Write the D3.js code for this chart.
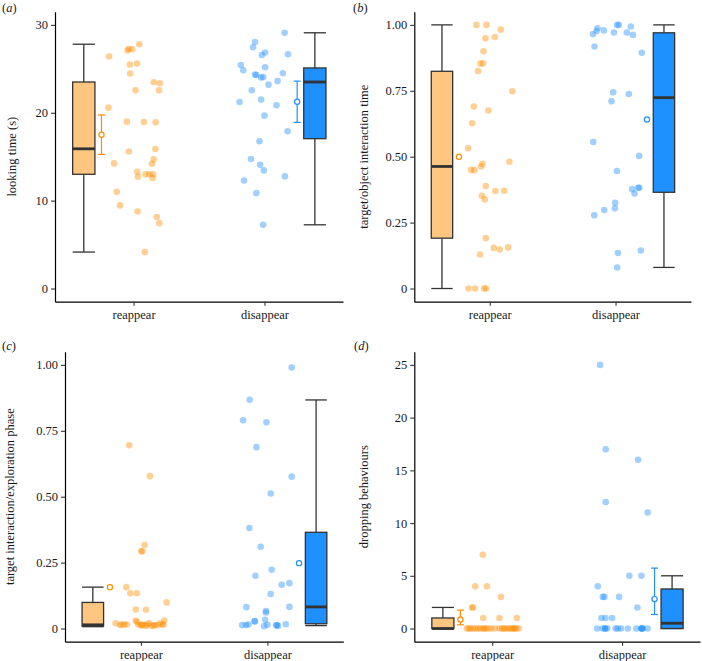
<!DOCTYPE html>
<html><head><meta charset="utf-8">
<script src="https://cdn.jsdelivr.net/npm/d3@7"></script>
<style>
body{margin:0;background:#fff}
svg{display:block}
</style>
</head><body>
<svg id="chart" width="702" height="661"></svg>
<script>
const categories = ["reappear", "disappear"];

// ---- panel (a): looking time (s) ----  points as [jitter, value]
const aReappearPoints = [[-0.187,26.4],[-0.046,27.08],[-0.036,27.27],[-0.01,27.23],[0.044,27.8],[-0.028,25.5],[0.026,25.6],[-0.026,24.46],[0.015,22.56],[0.154,23.47],[0.2,23.36],[0.195,22.56],[-0.192,20.58],[-0.051,18.99],[0.079,18.95],[0.169,18.91],[-0.036,15.6],[0.167,15.87],[0.154,14.7],[-0.149,14.24],[0.141,14.2],[0.028,13.29],[0.033,12.72],[0.092,13.0],[0.12,12.99],[0.149,13.0],[0.146,12.57],[-0.128,11.0],[-0.103,9.46],[0.031,8.77],[0.177,8.13],[0.197,7.44],[0.087,4.14]];
const aDisappearPoints = [[0.154,29.1],[-0.072,28.06],[-0.087,27.46],[0.005,26.85],[-0.02,26.58],[0.18,26.66],[-0.18,25.44],[-0.162,24.83],[0.005,25.18],[-0.072,24.34],[-0.062,24.3],[-0.01,24.06],[-0.026,24.0],[0.141,24.5],[0.1,23.6],[0.031,23.2],[-0.097,22.56],[-0.026,21.5],[-0.19,21.23],[0.092,20.85],[0,19.67],[0.177,17.9],[-0.038,16.75],[-0.103,14.74],[-0.033,14.09],[-0.005,13.44],[0.156,12.76],[-0.156,12.3],[-0.062,10.86],[-0.01,7.25]];
const aBoxes = [[4.15,13.0,15.9,23.5,27.8],[7.25,17.05,23.5,25.1,29.1]]; // low, q1, median, q3, high
const aMeans = [17.5, 21.26];
const aErrLow = [15.26, 18.9];
const aErrHigh = [19.75, 23.6];
const aTicks = [0, 10, 20, 30];

// ---- panel (b): target/object interaction time ----
const bReappearPoints = [[-0.106,1.0],[-0.026,1.0],[0.087,0.982],[0.04,0.954],[-0.034,0.949],[-0.05,0.9],[-0.074,0.853],[-0.053,0.854],[-0.093,0.825],[0.18,0.748],[-0.011,0.675],[-0.127,0.69],[-0.14,0.627],[-0.172,0.532],[-0.148,0.45],[-0.122,0.449],[-0.058,0.473],[-0.069,0.463],[0.156,0.481],[-0.032,0.389],[-0.063,0.352],[-0.04,0.338],[0.045,0.37],[0.114,0.371],[-0.032,0.191],[-0.077,0.129],[0.032,0.154],[0.079,0.148],[0.146,0.156],[-0.169,0],[-0.116,0],[-0.045,0],[-0.029,0]];
const bDisappearPoints = [[0.013,1.0],[0.026,1.0],[0.122,0.994],[-0.143,0.987],[-0.18,0.965],[-0.151,0.977],[-0.093,0.979],[-0.013,0.971],[0.09,0.971],[0.138,0.962],[-0.167,0.918],[0.209,0.894],[-0.019,0.744],[-0.032,0.71],[0.106,0.738],[-0.177,0.556],[0.188,0.503],[0.011,0.446],[0.132,0.377],[0.18,0.382],[0.19,0.382],[0.151,0.36],[-0.003,0.325],[-0.005,0.304],[-0.09,0.298],[-0.169,0.278],[0.019,0.135],[0.201,0.144],[0.013,0.08]];
const bBoxes = [[0,0.191,0.463,0.824,1.0],[0.08,0.365,0.724,0.97,1.0]];
const bMeans = [0.5, 0.641];
const bTicks = [0, 0.25, 0.5, 0.75, 1.0];

// ---- panel (c): target interaction/exploration phase ----
const cReappearPoints = [[-0.092,0.695],[0.071,0.578],[0.029,0.317],[0.003,0.293],[0.011,0.293],[-0.116,0.157],[-0.084,0.134],[-0.032,0.134],[-0.04,0.072],[0.04,0.071],[0.203,0.099],[-0.2,0.02],[-0.165,0.013],[-0.131,0.015],[-0.112,0.015],[-0.041,0.03],[-0.02,0.015],[0,0.013],[0.019,0.015],[0.038,0.01],[0.064,0.02],[0.085,0.01],[0.111,0.013],[0.133,0.013],[0.151,0.02],[0.177,0.015],[0.185,0.03],[-0.15,0.015],[0.005,0.012],[0.05,0.015],[0.1,0.012],[-0.03,0.025],[0.17,0.015]];
const cDisappearPoints = [[0.192,0.99],[-0.14,0.868],[-0.192,0.79],[-0.008,0.782],[-0.087,0.688],[0.192,0.576],[0.026,0.512],[-0.142,0.381],[-0.053,0.31],[0.034,0.223],[-0.095,0.2],[0.113,0.166],[0.174,0.172],[0.026,0.131],[-0.166,0.081],[0.174,0.082],[-0.011,0.066],[-0.011,0.061],[-0.1,0.027],[-0.018,0.033],[-0.2,0.013],[-0.169,0.013],[-0.15,0.015],[-0.026,0.009],[0,0.014],[0.074,0.013],[0.084,0.01],[0.145,0.016],[0.07,0.012],[-0.1,0.028]];
const cBoxes = [[0.007,0.009,0.014,0.099,0.157],[0.011,0.018,0.082,0.365,0.867]];
const cMeans = [0.157, 0.248];
const cTicks = [0, 0.25, 0.5, 0.75, 1.0];

// ---- panel (d): dropping behaviours ----
const dReappearPoints = [[-0.072,7],[-0.131,4],[-0.041,4],[0.067,3],[-0.154,2],[-0.149,2],[-0.069,1],[0.056,1],[0.19,1],[-0.195,0],[-0.169,0],[-0.149,0],[-0.111,0],[-0.092,0],[-0.072,0],[-0.051,0],[-0.008,0],[0.056,0],[0.077,0],[0.102,0],[0.12,0],[0.138,0],[0.164,0],[0.185,0],[0.205,0],[-0.18,0],[-0.13,0],[-0.03,0],[0.02,0],[0.09,0],[0.15,0],[0.17,0],[-0.06,0]];
const dDisappearPoints = [[-0.169,25],[-0.126,17],[0.123,16],[-0.126,12],[0.197,11],[0.056,5],[0.149,5],[-0.187,4],[-0.149,3],[-0.136,3],[-0.023,3],[0.118,2],[-0.159,1],[-0.128,1],[-0.077,1],[-0.192,0],[-0.149,0],[-0.131,0],[-0.115,0],[-0.049,0],[-0.033,0],[-0.008,0],[0.044,0],[0.11,0],[0.149,0],[0.159,0],[0.197,0],[0.15,0],[-0.13,0],[0.155,0]];
const dBoxes = [[0,0,0,1,2],[0,0,0.5,3.75,5]];
const dMeans = [0.86, 2.79];
const dErrLow = [0.35, 1.33];
const dErrHigh = [1.74, 5.73];
const dTicks = [0, 5, 10, 15, 20, 25];

const pointColors = ["#FF8C00", "#1E90FF"];
const boxFills = ["#FFC680", "#1E90FF"];
const meanColors = ["#FF8C00", "#1E90FF"];
const FONT = '"Liberation Serif", "Times New Roman", Times, serif';
const FS = "12.5px";

const svg = d3.select("#chart").style("font-family", FONT);

function fmt2(d){ return d === 0 ? "0" : d.toFixed(2); }
function fmt0(d){ return String(d); }

const panels = [
  {tag:"a", label:"looking time (s)", left:55, right:343, top:11.7, bottom:301.7, domain:[-1.5,31.5], ticks:aTicks, fmt:fmt0, labelX:12, tagX:2, tagY:11.5,
   points:[aReappearPoints,aDisappearPoints], boxes:aBoxes, means:aMeans, errLow:aErrLow, errHigh:aErrHigh},
  {tag:"b", label:"target/object interaction time", left:414.3, right:691, top:11.7, bottom:301.7, domain:[-0.05,1.05], ticks:bTicks, fmt:fmt2, labelX:364, tagX:353, tagY:11.5,
   points:[bReappearPoints,bDisappearPoints], boxes:bBoxes, means:bMeans, errLow:null, errHigh:null},
  {tag:"c", label:"target interaction/exploration phase", left:65, right:343.3, top:351.7, bottom:641.7, domain:[-0.05,1.05], ticks:cTicks, fmt:fmt2, labelX:10, tagX:2, tagY:350,
   points:[cReappearPoints,cDisappearPoints], boxes:cBoxes, means:cMeans, errLow:null, errHigh:null},
  {tag:"d", label:"dropping behaviours", left:414.3, right:700, top:351.7, bottom:641.7, domain:[-1.25,26.25], ticks:dTicks, fmt:fmt0, labelX:364, tagX:354, tagY:350,
   points:[dReappearPoints,dDisappearPoints], boxes:dBoxes, means:dMeans, errLow:dErrLow, errHigh:dErrHigh}
];

const boxOffset = [-0.38, 0.385];
const meanOffset = [-0.245, 0.25];
const boxWidth = 0.17;

panels.forEach(p => {
  const g = svg.append("g");
  const x = d3.scalePoint().domain(categories).range([p.left, p.right]).padding(0.6);
  const step = x.step();
  const y = d3.scaleLinear().domain(p.domain).range([p.bottom, p.top]);

  // jittered points
  categories.forEach((cat, i) => {
    g.append("g").selectAll("circle").data(p.points[i]).join("circle")
      .attr("cx", d => x(cat) + d[0] * step)
      .attr("cy", d => y(d[1]))
      .attr("r", 3.3)
      .attr("fill", pointColors[i])
      .attr("fill-opacity", 0.42);
  });

  // boxplots
  categories.forEach((cat, i) => {
    const s = p.boxes[i];
    const cx = x(cat) + boxOffset[i] * step;
    const w = boxWidth * step;
    const bg = g.append("g").attr("stroke", "#333").attr("stroke-width", 1.3);
    bg.append("line").attr("x1", cx).attr("x2", cx).attr("y1", y(s[0])).attr("y2", y(s[1]));
    bg.append("line").attr("x1", cx).attr("x2", cx).attr("y1", y(s[3])).attr("y2", y(s[4]));
    bg.append("line").attr("x1", cx - w/2).attr("x2", cx + w/2).attr("y1", y(s[0])).attr("y2", y(s[0]));
    bg.append("line").attr("x1", cx - w/2).attr("x2", cx + w/2).attr("y1", y(s[4])).attr("y2", y(s[4]));
    bg.append("rect").attr("x", cx - w/2).attr("width", w)
      .attr("y", y(s[3])).attr("height", Math.max(0, y(s[1]) - y(s[3])))
      .attr("fill", boxFills[i]);
    bg.append("line").attr("x1", cx - w/2).attr("x2", cx + w/2).attr("y1", y(s[2])).attr("y2", y(s[2]))
      .attr("stroke-width", 2.8);
  });

  // means with error bars
  categories.forEach((cat, i) => {
    const mx = x(cat) + meanOffset[i] * step;
    const mg = g.append("g").attr("stroke", meanColors[i]).attr("stroke-width", 1.2);
    if (p.errLow) {
      const cw = 3.5;
      mg.append("line").attr("x1", mx).attr("x2", mx).attr("y1", y(p.errLow[i])).attr("y2", y(p.errHigh[i]));
      mg.append("line").attr("x1", mx - cw).attr("x2", mx + cw).attr("y1", y(p.errLow[i])).attr("y2", y(p.errLow[i]));
      mg.append("line").attr("x1", mx - cw).attr("x2", mx + cw).attr("y1", y(p.errHigh[i])).attr("y2", y(p.errHigh[i]));
    }
    mg.append("circle").attr("cx", mx).attr("cy", y(p.means[i])).attr("r", 2.6).attr("fill", "#fff");
  });

  // axes
  const ya = g.append("g").attr("transform", `translate(${p.left},0)`)
    .call(d3.axisLeft(y).tickValues(p.ticks).tickFormat(p.fmt).tickSize(4).tickSizeOuter(0).tickPadding(3));
  const xa = g.append("g").attr("transform", `translate(0,${p.bottom})`)
    .call(d3.axisBottom(x).tickSize(4).tickSizeOuter(0).tickPadding(4));
  [ya, xa].forEach(a => {
    a.attr("font-family", null).attr("font-size", null);
    a.select(".domain").attr("stroke", "#000").attr("stroke-width", 1.2);
    a.selectAll(".tick line").attr("stroke", "#333").attr("stroke-width", 1.1);
    a.selectAll(".tick text").style("font-family", FONT).style("font-size", FS).attr("fill", "#1a1a1a");
  });

  // y label
  g.append("text")
    .attr("transform", `translate(${p.labelX},${(p.top + p.bottom) / 2}) rotate(-90)`)
    .attr("text-anchor", "middle").attr("dominant-baseline", "central")
    .style("font-family", FONT).style("font-size", FS).attr("fill", "#1a1a1a")
    .text(p.label);

  // panel tag
  const t = g.append("text").attr("x", p.tagX).attr("y", p.tagY)
    .style("font-family", FONT).style("font-size", FS).attr("fill", "#1a1a1a");
  t.append("tspan").text("(");
  t.append("tspan").attr("font-style", "italic").text(p.tag);
  t.append("tspan").text(")");
});
</script>
</body></html>
